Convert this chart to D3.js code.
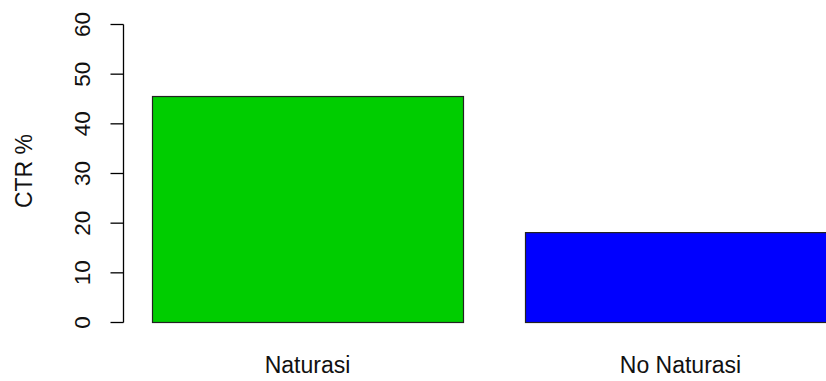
<!DOCTYPE html>
<html>
<head>
<meta charset="utf-8">
<script src="https://cdn.jsdelivr.net/npm/d3@7"></script>
<style>
  body { margin: 0; background: #fff; }
  svg { display: block; font-family: "Liberation Sans", Arial, sans-serif; }
</style>
</head>
<body>
<svg id="chart"></svg>
<script>
// data
let categories = ["Naturasi", "No Naturasi"];
let ctrValues = [45.5, 18.1];
let barColors = ["#00cd00", "#0000ff"];
let yTicks = [0, 10, 20, 30, 40, 50, 60];

let width = 826;
let height = 381;
let svg = d3.select("#chart").attr("width", width).attr("height", height);

// scales (R barplot: width 1, space 0.2)
let scaleX = d3.scaleBand()
  .domain(categories)
  .range([152, 836])
  .paddingInner(62 / 373)
  .paddingOuter(0);
let scaleY = d3.scaleLinear().domain([0, 60]).range([322, 24]);

// bars
svg.selectAll(".bar")
  .data(categories)
  .enter()
  .append("rect")
  .attr("x", (d) => scaleX(d) + 0.5)
  .attr("y", (d, i) => scaleY(ctrValues[i]) + 0.5)
  .attr("width", scaleX.bandwidth())
  .attr("height", (d, i) => scaleY(0) - scaleY(ctrValues[i]))
  .style("fill", (d, i) => barColors[i])
  .style("stroke", "#222")
  .style("stroke-width", 1.2);

// y axis
let axisY = d3.axisLeft(scaleY).tickValues(yTicks).tickSize(13).tickPadding(22);
let gy = svg.append("g")
  .attr("transform", "translate(123.5, 0)")
  .call(axisY);
gy.select(".domain").attr("d", `M-0,${scaleY(0) + 0.5}V${scaleY(60) + 0.5}`)
  .style("stroke", "#000").style("stroke-width", 1.3);
gy.selectAll(".tick line").style("stroke", "#000").style("stroke-width", 1.3);
gy.selectAll(".tick text")
  .style("font-size", "22.5px")
  .style("font-family", "Liberation Sans, Arial, sans-serif")
  .style("fill", "#111")
  .attr("text-anchor", "middle")
  .attr("dy", null)
  .attr("transform", "rotate(-90)")
  .attr("x", 0)
  .attr("y", -34);

// category labels
svg.selectAll(".cat")
  .data(categories)
  .enter()
  .append("text")
  .attr("x", (d) => scaleX(d) + scaleX.bandwidth() / 2)
  .attr("y", 373)
  .attr("text-anchor", "middle")
  .style("font-size", "23px")
  .style("fill", "#111")
  .text((d) => d);

// y title
svg.append("text")
  .attr("transform", "translate(32, 171) rotate(-90)")
  .attr("text-anchor", "middle")
  .style("font-size", "23px")
  .style("fill", "#111")
  .text("CTR %");
</script>
</body>
</html>
